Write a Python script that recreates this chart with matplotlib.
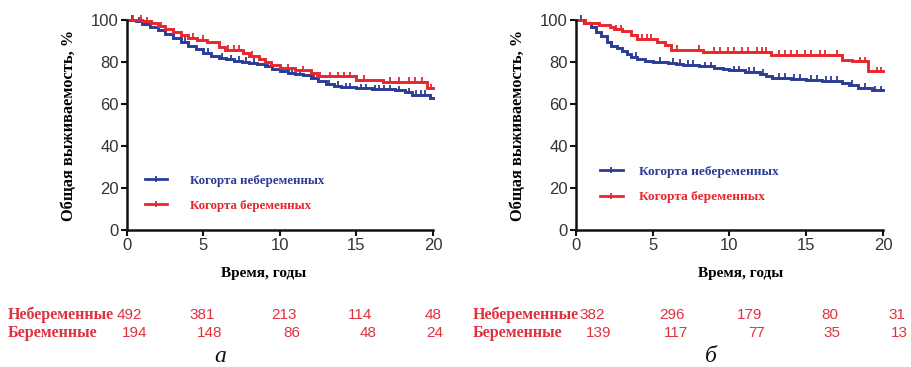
import numpy as np
import matplotlib
matplotlib.use("Agg")
import matplotlib.pyplot as plt
from matplotlib.lines import Line2D

# ---- survival data (Kaplan-Meier step curves, %) ----
# panel "а"
a_nonpreg_t = [0, 0.6, 1.0, 1.5, 2.0, 2.5, 3.0, 3.5, 4.0, 4.5, 5.0, 5.5, 6.0, 6.5, 7.0,
               7.5, 8.0, 8.5, 9.0, 9.5, 10.0, 10.5, 11.0, 11.5, 12.0, 12.5, 13.0, 13.5,
               14.0, 15.0, 16.0, 17.5, 18.2, 18.6, 19.8]
a_nonpreg_s = [100, 99.3, 98.0, 96.8, 95.0, 93.3, 91.5, 89.5, 87.8, 86.0, 84.3, 83.0, 82.0,
               81.2, 80.7, 80.2, 79.5, 79.0, 78.0, 76.8, 75.5, 75.0, 74.5, 73.8, 72.5,
               71.0, 69.3, 68.5, 68.0, 67.5, 67.0, 66.5, 65.5, 64.3, 62.7]
a_preg_t = [0, 1.0, 1.6, 2.0, 2.5, 3.0, 3.5, 4.0, 4.6, 5.2, 6.0, 6.4, 7.6, 8.0, 8.6, 9.0,
            9.4, 10.0, 11.0, 12.0, 12.4, 15.0, 16.7, 19.6]
a_preg_s = [100, 99.3, 98.5, 97.0, 95.5, 94.3, 93.0, 91.5, 90.5, 89.5, 87.3, 85.7, 84.3,
            83.0, 81.6, 80.0, 78.5, 77.0, 76.0, 74.8, 73.2, 71.6, 70.4, 67.5]
a_nonpreg_cens = [0.3, 0.8, 1.2, 3.8, 5.3, 6.2, 6.8, 7.3, 7.8, 8.3, 9.2, 10.2, 10.8, 11.3,
                  12.2, 13.2, 13.8, 14.3, 14.6, 15.3, 15.6, 16.2, 16.5, 16.8, 17.2, 17.8,
                  18.4, 18.9, 19.2, 19.5, 19.9]
a_preg_cens = [0.4, 0.9, 1.3, 2.2, 4.3, 5.0, 6.6, 7.0, 7.3, 8.2, 10.5, 11.5, 12.6, 13.3,
               13.8, 14.2, 14.6, 15.5, 17.2, 17.8, 18.4, 18.8, 19.3, 19.9]

# panel "б"
b_nonpreg_t = [0, 0.5, 1.0, 1.3, 1.6, 2.0, 2.3, 2.7, 3.0, 3.3, 3.6, 4.0, 4.5, 5.0, 6.0,
               6.5, 7.0, 8.0, 9.0, 9.6, 10.0, 11.0, 12.0, 12.4, 12.8, 14.0, 15.0, 16.0,
               17.3, 17.8, 18.4, 19.3]
b_nonpreg_s = [100, 98.5, 96.5, 94.5, 92.5, 89.5, 87.5, 86.5, 85.3, 83.8, 82.3, 81.3, 80.5,
               80.0, 79.5, 79.0, 78.5, 78.0, 77.2, 76.5, 76.0, 75.3, 74.5, 73.5, 72.5, 72.0,
               71.5, 71.0, 70.0, 69.0, 67.8, 66.5]
b_preg_t = [0, 0.6, 1.5, 2.2, 2.5, 3.0, 3.6, 4.0, 5.3, 5.8, 6.2, 8.3, 12.7, 17.3, 18.0,
            19.0]
b_preg_s = [100, 98.5, 97.6, 96.5, 95.5, 94.8, 93.0, 91.0, 89.5, 88.0, 85.8, 84.8, 83.5,
            81.0, 80.3, 75.5]
b_nonpreg_cens = [0.3, 3.9, 5.5, 6.3, 6.8, 7.3, 7.6, 8.4, 8.8, 10.3, 10.6, 11.3, 11.6, 12.2,
                  13.2, 13.6, 14.2, 14.6, 15.3, 15.7, 16.3, 16.6, 17.0, 18.0, 18.8, 19.5,
                  19.9]
b_preg_cens = [2.6, 2.9, 4.3, 4.6, 4.9, 6.6, 8.0, 9.0, 9.4, 9.9, 10.3, 10.8, 11.2, 11.8,
               12.1, 12.4, 13.2, 13.6, 14.0, 14.4, 14.9, 15.3, 15.9, 16.2, 17.0, 18.5,
               18.8, 19.6, 19.9]

# ---- numbers at risk ----
a_risk_nonpreg = [492, 381, 213, 114, 48]
a_risk_preg = [194, 148, 86, 48, 24]
b_risk_nonpreg = [382, 296, 179, 80, 31]
b_risk_preg = [139, 117, 77, 35, 13]

row_labels = ["Небеременные", "Беременные"]
legend_labels = ["Когорта небеременных", "Когорта беременных"]
ylabel = "Общая выживаемость, %"
xlabel = "Время, годы"
panel_tags = ["а", "б"]

BLUE = "#2b3c96"
RED = "#e8262e"
TABLE_RED = "#e0313f"
SERIF = ["Liberation Serif", "DejaVu Serif"]
SANS = ["Liberation Sans", "DejaVu Sans"]

W, H = 912, 367
fig = plt.figure(figsize=(W / 100, H / 100), dpi=100)


def fx(px):
    return px / W


def fy(py):
    return 1 - py / H


def step_value(times, surv, t):
    idx = np.searchsorted(times, t, side="right") - 1
    return np.asarray(surv)[idx]


def km_panel(ax, curves, leg_anchor, leg_pad, leg_size, xlab_x):
    for t, s, cens, col in curves:
        t_end = list(t) + [20.0]
        s_end = list(s) + [s[-1]]
        ax.step(t_end, s_end, where="post", color=col, lw=2.1, clip_on=False,
                solid_joinstyle="miter")
        ct = np.array(cens)
        ax.plot(ct, step_value(np.array(t), s, ct) + 0.8, ls="none", marker="|",
                ms=4.5, mew=1.3, color=col, clip_on=False)
    ax.set_xlim(0, 20)
    ax.set_ylim(0, 100)
    ax.set_xticks([0, 5, 10, 15, 20])
    ax.set_yticks([0, 20, 40, 60, 80, 100])
    for side in ("top", "right"):
        ax.spines[side].set_visible(False)
    for side in ("left", "bottom"):
        ax.spines[side].set_linewidth(1.8)
        ax.spines[side].set_color("#111111")
    ax.tick_params(direction="out", length=4, width=1.5, color="#111111",
                   labelsize=12, labelcolor="#333333", pad=2)
    for lab in ax.get_xticklabels() + ax.get_yticklabels():
        lab.set_family(SANS)
    ax.set_ylabel(ylabel, family=SERIF, fontweight="bold", fontsize=11.8, labelpad=10)
    ax.set_xlabel(xlabel, family=SERIF, fontweight="bold", fontsize=11)
    ax.xaxis.set_label_coords(xlab_x, -0.175)

    handles = [Line2D([], [], color=c[3], lw=2.0, marker="|", ms=4.5, mew=1.3)
               for c in curves]
    leg = ax.legend(handles, legend_labels, loc="center left", bbox_to_anchor=leg_anchor,
                    frameon=False, handlelength=1.7, handletextpad=leg_pad,
                    labelspacing=1.0, borderpad=0, borderaxespad=0,
                    prop={"family": SERIF, "weight": "bold", "size": leg_size})
    for txt, c in zip(leg.get_texts(), curves):
        txt.set_color(c[3])


ax_a = fig.add_axes([fx(127), fy(230), fx(433) - fx(127), fy(20) - fy(230)])
km_panel(ax_a,
         [(a_nonpreg_t, a_nonpreg_s, a_nonpreg_cens, BLUE),
          (a_preg_t, a_preg_s, a_preg_cens, RED)],
         (0.058, 0.175), 1.8, 9.3, 0.445)

ax_b = fig.add_axes([fx(576), fy(230), fx(883) - fx(576), fy(20) - fy(230)])
km_panel(ax_b,
         [(b_nonpreg_t, b_nonpreg_s, b_nonpreg_cens, BLUE),
          (b_preg_t, b_preg_s, b_preg_cens, RED)],
         (0.078, 0.218), 1.2, 9.6, 0.535)

# ---- numbers-at-risk table ----
risk_rows_y = [315, 333]
a_cols_x = [[142, 215, 297, 372, 442], [147, 222, 300, 377, 443]]
b_cols_x = [[605, 685, 762, 838, 905], [611, 688, 765, 840, 908]]
label_x = [8, 473]

for block, (rows, cols) in enumerate([((a_risk_nonpreg, a_risk_preg), a_cols_x),
                                      ((b_risk_nonpreg, b_risk_preg), b_cols_x)]):
    for r, (vals, xs) in enumerate(zip(rows, cols)):
        fig.text(fx(label_x[block]), fy(risk_rows_y[r]), row_labels[r], color=TABLE_RED,
                 family=SERIF, fontweight="bold", fontsize=11.6, ha="left", va="center")
        for v, x in zip(vals, xs):
            fig.text(fx(x), fy(risk_rows_y[r]), str(v), color=TABLE_RED, family=SANS,
                     fontsize=11, ha="right", va="center")

for tag, x in zip(panel_tags, [220, 711]):
    fig.text(fx(x), fy(356), tag, family=SERIF, style="italic", fontsize=17,
             ha="center", va="center", color="#111111")

fig.savefig("out.png", dpi=100, facecolor="white")
